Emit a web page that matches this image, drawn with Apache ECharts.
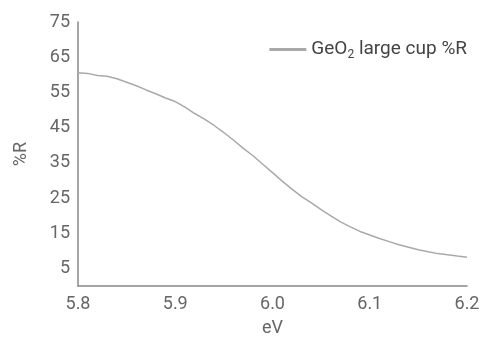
<!DOCTYPE html>
<html>
<head>
<meta charset="utf-8">
<script src="https://cdn.jsdelivr.net/npm/echarts@6/dist/echarts.min.js"></script>
<style>
html,body{margin:0;padding:0;background:#fff;}
#chart{width:485px;height:337px;}
</style>
</head>
<body>
<div id="chart"></div>
<script>
var energyEV = [5.80,5.81,5.82,5.83,5.84,5.85,5.86,5.87,5.88,5.89,5.90,5.91,5.92,5.93,5.94,5.95,5.96,5.97,5.98,5.99,6.00,6.01,6.02,6.03,6.04,6.05,6.06,6.07,6.08,6.09,6.10,6.11,6.12,6.13,6.14,6.15,6.16,6.17,6.18,6.19,6.20];
var reflectancePct = [60.6,60.4,59.8,59.6,58.9,57.9,56.9,55.7,54.6,53.4,52.4,50.8,49.0,47.4,45.6,43.6,41.4,39.1,37.0,34.6,32.2,29.8,27.5,25.4,23.6,21.7,19.9,18.2,16.8,15.5,14.5,13.5,12.6,11.7,11.0,10.3,9.7,9.2,8.9,8.5,8.2];
var xTickLabels = [5.8,5.9,6.0,6.1,6.2];
var yTickLabels = [5,15,25,35,45,55,65,75];
var seriesName = 'GeO{sub|2} large cup %R';

var chart = echarts.init(document.getElementById('chart'), null, {renderer:'canvas'});
var font = 'Roboto';
var pts = energyEV.map(function(x,i){return [x, reflectancePct[i]];});
chart.setOption({
  animation:false,
  backgroundColor:'#fff',
  grid:{left:78,right:18,top:22,bottom:51,containLabel:false,outerBoundsMode:'none'},
  legend:{
    right:18, top:40, padding:0,
    icon:'rect', itemWidth:37, itemHeight:3, itemGap:8,
    itemStyle:{color:'#a9a9a9'},
    data:[{name:seriesName}],
    formatter:function(n){return n;},
    textStyle:{fontFamily:font,fontSize:19,color:'#444',
      rich:{sub:{fontFamily:font,fontSize:12,color:'#444',verticalAlign:'bottom',padding:[11,0,0,0]}}}
  },
  xAxis:{
    type:'value', min:5.8, max:6.2,
    name:'eV', nameLocation:'middle', nameGap:33,
    nameTextStyle:{fontFamily:font,fontSize:18,color:'#666'},
    axisLine:{show:true,lineStyle:{color:'#888',width:1.5}},
    axisTick:{show:false},
    splitLine:{show:false},
    axisLabel:{customValues:xTickLabels,fontFamily:font,fontSize:18,color:'#666',margin:9,
      formatter:function(v){return v.toFixed(1);}}
  },
  yAxis:{
    type:'value', min:0, max:75,
    name:'%R', nameLocation:'middle', nameGap:48, nameRotate:90,
    nameTextStyle:{fontFamily:font,fontSize:18,color:'#666'},
    axisLine:{show:true,lineStyle:{color:'#888',width:1.5}},
    axisTick:{show:false},
    splitLine:{show:false},
    axisLabel:{customValues:yTickLabels,fontFamily:font,fontSize:18,color:'#666',margin:8}
  },
  series:[{
    name:seriesName, type:'line', data:pts, showSymbol:false, symbol:'none',
    lineStyle:{color:'#a9a9a9',width:1.5}, itemStyle:{color:'#a9a9a9'}
  }]
});
</script>
</body>
</html>
